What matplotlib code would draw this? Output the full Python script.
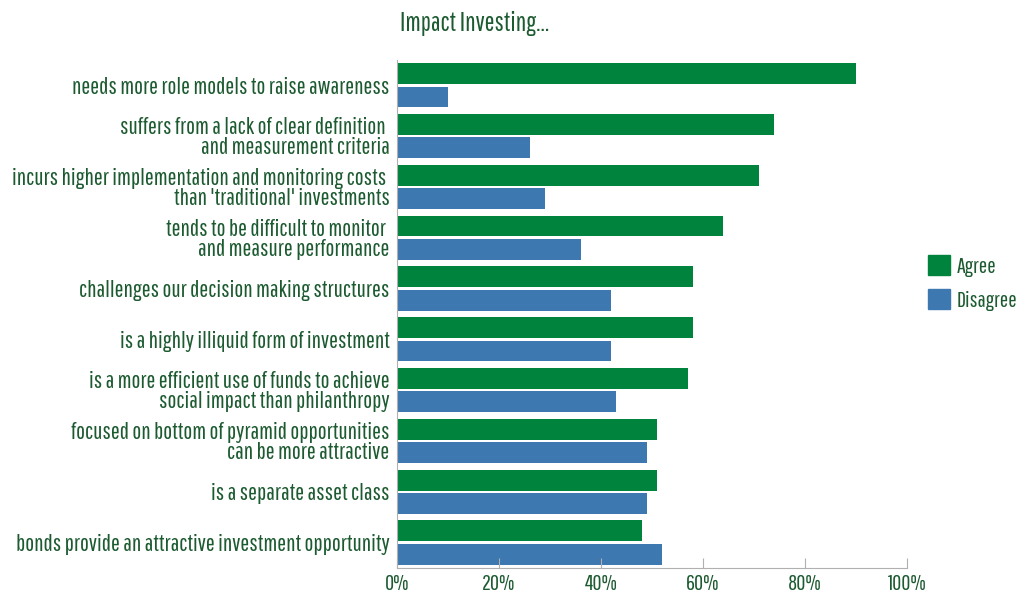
import numpy as np
import matplotlib.pyplot as plt
from matplotlib import font_manager
from matplotlib.patches import Patch
from matplotlib.ticker import FuncFormatter

statements = [
    "needs more role models to raise awareness",
    "suffers from a lack of clear definition \nand measurement criteria",
    "incurs higher implementation and monitoring costs \nthan 'traditional' investments",
    "tends to be difficult to monitor \nand measure performance",
    "challenges our decision making structures",
    "is a highly illiquid form of investment",
    "is a more efficient use of funds to achieve\nsocial impact than philanthropy",
    "focused on bottom of pyramid opportunities\ncan be more attractive",
    "is a separate asset class",
    "bonds provide an attractive investment opportunity",
]
agree = [90, 74, 71, 64, 58, 58, 57, 51, 51, 48]
disagree = [10, 26, 29, 36, 42, 42, 43, 49, 49, 52]

green = "#00833d"
blue = "#3d78b0"
text_green = "#1c5a30"

# narrow sans-serif if one is around, else the default
installed = {f.name for f in font_manager.fontManager.ttflist}
for fam in ["Pathway Gothic One", "Barlow Condensed", "Roboto Condensed"]:
    if fam in installed:
        break
else:
    fam = "DejaVu Sans"
plt.rcParams["font.family"] = [fam, "DejaVu Sans"]

fig = plt.figure(figsize=(10.22, 5.97), dpi=100)
ax = fig.add_axes([0.3885, 0.0486, 0.499, 0.851])

y = np.arange(len(statements))[::-1]
h = 0.41
ax.barh(y + 0.23, agree, height=h, color=green)
ax.barh(y - 0.23, disagree, height=h, color=blue)

ax.set_xlim(0, 100)
ax.set_ylim(-0.5, len(statements) - 0.5)
ax.set_xticks(np.arange(0, 101, 20))
ax.xaxis.set_major_formatter(FuncFormatter(lambda v, p: f"{v:.0f}%"))
ax.set_yticks(y)
ax.set_yticklabels(statements, fontsize=17, color=text_green, linespacing=0.95)
ax.tick_params(axis="y", length=0, pad=5.5)
ax.tick_params(axis="x", direction="in", length=7, color="#b0b0b0",
               labelsize=16, labelcolor=text_green, pad=4.5)

for s in ["top", "right"]:
    ax.spines[s].set_visible(False)
for s in ["left", "bottom"]:
    ax.spines[s].set_color("#b0b0b0")

fig.text(0.391, 0.961, "Impact Investing...", fontsize=19, color=text_green,
         ha="left", va="center")

handles = [Patch(color=green, label="Agree"), Patch(color=blue, label="Disagree")]
fig.legend(handles=handles, loc="center left", bbox_to_anchor=(0.908, 0.526),
           frameon=False, fontsize=16, handlelength=1.0, handleheight=1.0,
           handletextpad=0.3, labelspacing=0.55, labelcolor=text_green,
           borderpad=0, borderaxespad=0)

fig.savefig("out.png", dpi=100)
